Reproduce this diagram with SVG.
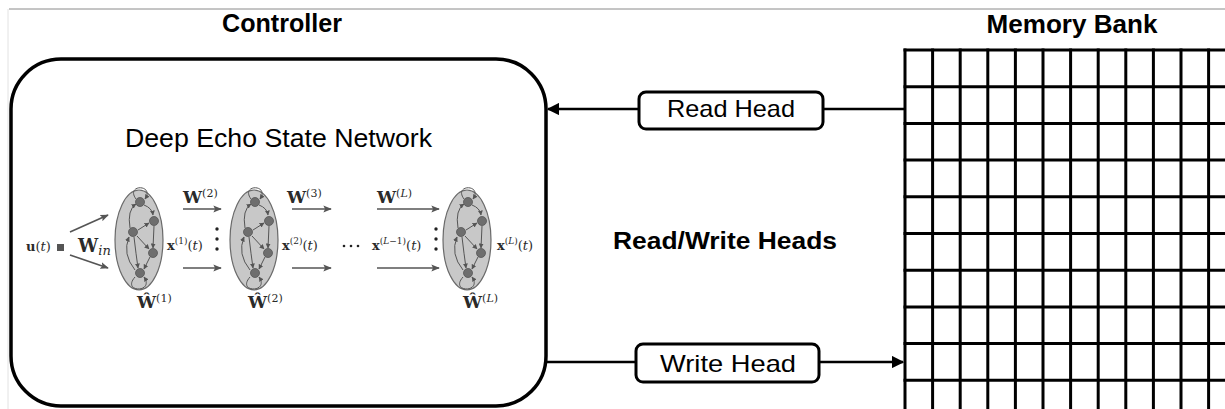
<svg xmlns="http://www.w3.org/2000/svg" width="1225" height="409" viewBox="0 0 1225 409">
<style>
.title{font-family:"Liberation Sans",Arial,sans-serif;font-weight:bold;fill:#000}
.lbl{font-family:"Liberation Sans",Arial,sans-serif;fill:#000}
.m{font-family:"DejaVu Serif","Liberation Serif",serif;font-weight:bold;fill:#2a2a2a}
.mi{font-family:"DejaVu Serif","Liberation Serif",serif;font-weight:normal;font-style:italic;fill:#2a2a2a}
.sup{font-family:"DejaVu Serif","Liberation Serif",serif;font-weight:normal;fill:#2a2a2a}
.edge{fill:none;stroke:#000;stroke-width:2.5}
.fa{fill:none;stroke:#555;stroke-width:1.7}
.ra{fill:none;stroke:#555;stroke-width:1}
.grid line{stroke:#000;stroke-width:3}
</style>
<defs>
<marker id="ah" viewBox="0 0 10 10" refX="9" refY="5" markerWidth="5" markerHeight="5" orient="auto" markerUnits="strokeWidth">
<path d="M0,0 L10,5 L0,10 Z" fill="#000"/>
</marker>
<marker id="fah" viewBox="0 0 10 10" refX="9" refY="5" markerWidth="5" markerHeight="5" orient="auto" markerUnits="strokeWidth">
<path d="M0,1 L10,5 L0,9 L2,5 Z" fill="#555"/>
</marker>
<marker id="rah" viewBox="0 0 10 10" refX="9" refY="5" markerWidth="5" markerHeight="5" orient="auto" markerUnits="strokeWidth">
<path d="M0,0 L10,5 L0,10 Z" fill="#555"/>
</marker>
<g id="res">
<ellipse cx="0" cy="0" rx="24" ry="50" fill="#c8c8c8" stroke="#6a6a6a" stroke-width="1.2"/>
<path class="ra" d="M-3,-41 C-14,-56 16,-56 6,-41" marker-end="url(#rah)"/>
<path class="ra" d="M-4,37 C-18,53 16,53 5,37" marker-end="url(#rah)"/>
<path class="ra" d="M5,-35 Q13,-32 14,-25" marker-end="url(#rah)"/>
<path class="ra" d="M-1,-10 L10,-17" marker-end="url(#rah)"/>
<path class="ra" d="M15,-14 L14,8" marker-end="url(#rah)"/>
<path class="ra" d="M-2,-4 L10,9" marker-end="url(#rah)"/>
<path class="ra" d="M11,17 L5,29" marker-end="url(#rah)"/>
<path class="ra" d="M-9,-12 Q-12,-30 -3,-36" marker-end="url(#rah)"/>
<path class="ra" d="M-4,30 Q-17,14 -10,-3" marker-end="url(#rah)"/>
<path class="ra" d="M-5,-3 Q-3,14 -1,28" marker-end="url(#rah)"/>
<g fill="#6e6e6e" stroke="#555" stroke-width="0.8">
<circle cx="1" cy="-38" r="4.5"/>
<circle cx="15" cy="-19" r="4.5"/>
<circle cx="-6" cy="-8" r="4.5"/>
<circle cx="14" cy="13" r="4.5"/>
<circle cx="1" cy="33" r="4.5"/>
</g>
</g>
</defs>

<line x1="9" y1="9" x2="1225" y2="9" stroke="#8a8a8a" stroke-width="1"/>
<line x1="8" y1="9" x2="8" y2="409" stroke="#e2e2e2" stroke-width="1"/>

<text class="title" x="282" y="32" font-size="26" text-anchor="middle" textLength="120" lengthAdjust="spacingAndGlyphs">Controller</text>
<text class="title" x="1072" y="33" font-size="25" text-anchor="middle" textLength="171" lengthAdjust="spacingAndGlyphs">Memory Bank</text>
<text class="title" x="725" y="249" font-size="23" text-anchor="middle" textLength="224" lengthAdjust="spacingAndGlyphs">Read/Write Heads</text>

<g id="controller">
<rect x="11" y="59" width="535" height="347" rx="50" ry="50" fill="#fff" stroke="#000" stroke-width="3.5"/>
<text class="lbl" x="125" y="147" font-size="26" textLength="307" lengthAdjust="spacingAndGlyphs">Deep Echo State Network</text>
</g>

<g id="deepesn">
<text class="m" x="26" y="251" font-size="13">u<tspan class="sup">(</tspan><tspan class="mi">t</tspan><tspan class="sup">)</tspan></text>
<rect x="57" y="244" width="7" height="7" fill="#555"/>
<path class="fa" d="M70,232 L108,215" marker-end="url(#fah)"/>
<path class="fa" d="M70,255 L108,268" marker-end="url(#fah)"/>
<text class="m" x="78" y="252" font-size="18">W<tspan class="mi" font-weight="bold" font-size="13" dy="3">in</tspan></text>

<g id="reservoir1"><use href="#res" x="139" y="240"/></g>
<g id="reservoir2"><use href="#res" x="254" y="240"/></g>
<g id="reservoirL"><use href="#res" x="467" y="240"/></g>

<text class="m" x="167" y="250" font-size="13">x<tspan class="sup" font-size="9" dy="-6">(1)</tspan><tspan class="sup" dy="6">(</tspan><tspan class="mi">t</tspan><tspan class="sup">)</tspan></text>
<g fill="#222"><circle cx="217" cy="229" r="1.7"/><circle cx="217" cy="239" r="1.7"/><circle cx="217" cy="249" r="1.7"/></g>
<text class="m" x="183" y="203" font-size="17">W<tspan class="sup" font-size="11" dy="-6">(2)</tspan></text>
<path class="fa" d="M183,209 L221,209" marker-end="url(#fah)"/>
<path class="fa" d="M183,268 L221,268" marker-end="url(#fah)"/>

<text class="m" x="282" y="250" font-size="13">x<tspan class="sup" font-size="9" dy="-6">(2)</tspan><tspan class="sup" dy="6">(</tspan><tspan class="mi">t</tspan><tspan class="sup">)</tspan></text>
<text class="m" x="287" y="203" font-size="17">W<tspan class="sup" font-size="11" dy="-6">(3)</tspan></text>
<path class="fa" d="M292,209 L331,209" marker-end="url(#fah)"/>
<path class="fa" d="M292,268 L331,268" marker-end="url(#fah)"/>

<g fill="#222"><circle cx="344" cy="246" r="1.3"/><circle cx="351" cy="246" r="1.3"/><circle cx="358" cy="246" r="1.3"/></g>
<text class="m" x="372" y="250" font-size="13">x<tspan class="sup" font-size="9" dy="-6">(<tspan font-style="italic">L</tspan>−1)</tspan><tspan class="sup" dy="6">(</tspan><tspan class="mi">t</tspan><tspan class="sup">)</tspan></text>
<g fill="#222"><circle cx="436" cy="229" r="1.7"/><circle cx="436" cy="239" r="1.7"/><circle cx="436" cy="249" r="1.7"/></g>
<text class="m" x="377" y="203" font-size="17">W<tspan class="sup" font-size="11" dy="-6">(<tspan font-style="italic">L</tspan>)</tspan></text>
<path class="fa" d="M377,209 L439,209" marker-end="url(#fah)"/>
<path class="fa" d="M377,268 L439,268" marker-end="url(#fah)"/>

<text class="m" x="497" y="250" font-size="13">x<tspan class="sup" font-size="9" dy="-6">(<tspan font-style="italic">L</tspan>)</tspan><tspan class="sup" dy="6">(</tspan><tspan class="mi">t</tspan><tspan class="sup">)</tspan></text>

<text class="m" x="137" y="308" font-size="17">Ŵ<tspan class="sup" font-size="11" dy="-6">(1)</tspan></text>
<text class="m" x="248" y="308" font-size="17">Ŵ<tspan class="sup" font-size="11" dy="-6">(2)</tspan></text>
<text class="m" x="463" y="308" font-size="17">Ŵ<tspan class="sup" font-size="11" dy="-6">(<tspan font-style="italic">L</tspan>)</tspan></text>
</g>

<g id="connectors">
<line class="edge" x1="905" y1="109" x2="823" y2="109"/>
<line class="edge" x1="639" y1="109" x2="548" y2="109" marker-end="url(#ah)"/>
<line class="edge" x1="546" y1="362" x2="636" y2="362"/>
<line class="edge" x1="819" y1="362" x2="903" y2="362" marker-end="url(#ah)"/>
</g>

<g id="readhead">
<rect x="639" y="92" width="184" height="37" rx="7" fill="#fff" stroke="#000" stroke-width="3"/>
<text class="lbl" x="667" y="117" font-size="24" textLength="128" lengthAdjust="spacingAndGlyphs">Read Head</text>
</g>
<g id="writehead">
<rect x="636" y="344" width="183" height="38" rx="7" fill="#fff" stroke="#000" stroke-width="3"/>
<text class="lbl" x="660" y="372" font-size="24" textLength="136" lengthAdjust="spacingAndGlyphs">Write Head</text>
</g>

<g id="memorybank" class="grid">
<line x1="905" y1="48.5" x2="905" y2="409"/>
<line x1="932.6" y1="48.5" x2="932.6" y2="409"/>
<line x1="960.2" y1="48.5" x2="960.2" y2="409"/>
<line x1="987.8" y1="48.5" x2="987.8" y2="409"/>
<line x1="1015.4" y1="48.5" x2="1015.4" y2="409"/>
<line x1="1043" y1="48.5" x2="1043" y2="409"/>
<line x1="1070.6" y1="48.5" x2="1070.6" y2="409"/>
<line x1="1098.2" y1="48.5" x2="1098.2" y2="409"/>
<line x1="1125.8" y1="48.5" x2="1125.8" y2="409"/>
<line x1="1153.4" y1="48.5" x2="1153.4" y2="409"/>
<line x1="1181" y1="48.5" x2="1181" y2="409"/>
<line x1="1208.6" y1="48.5" x2="1208.6" y2="409"/>
<line x1="903.5" y1="50" x2="1225" y2="50"/>
<line x1="903.5" y1="86.7" x2="1225" y2="86.7"/>
<line x1="903.5" y1="123.4" x2="1225" y2="123.4"/>
<line x1="903.5" y1="160.1" x2="1225" y2="160.1"/>
<line x1="903.5" y1="196.8" x2="1225" y2="196.8"/>
<line x1="903.5" y1="233.5" x2="1225" y2="233.5"/>
<line x1="903.5" y1="270.2" x2="1225" y2="270.2"/>
<line x1="903.5" y1="306.9" x2="1225" y2="306.9"/>
<line x1="903.5" y1="343.6" x2="1225" y2="343.6"/>
<line x1="903.5" y1="380.3" x2="1225" y2="380.3"/>
</g>
</svg>
